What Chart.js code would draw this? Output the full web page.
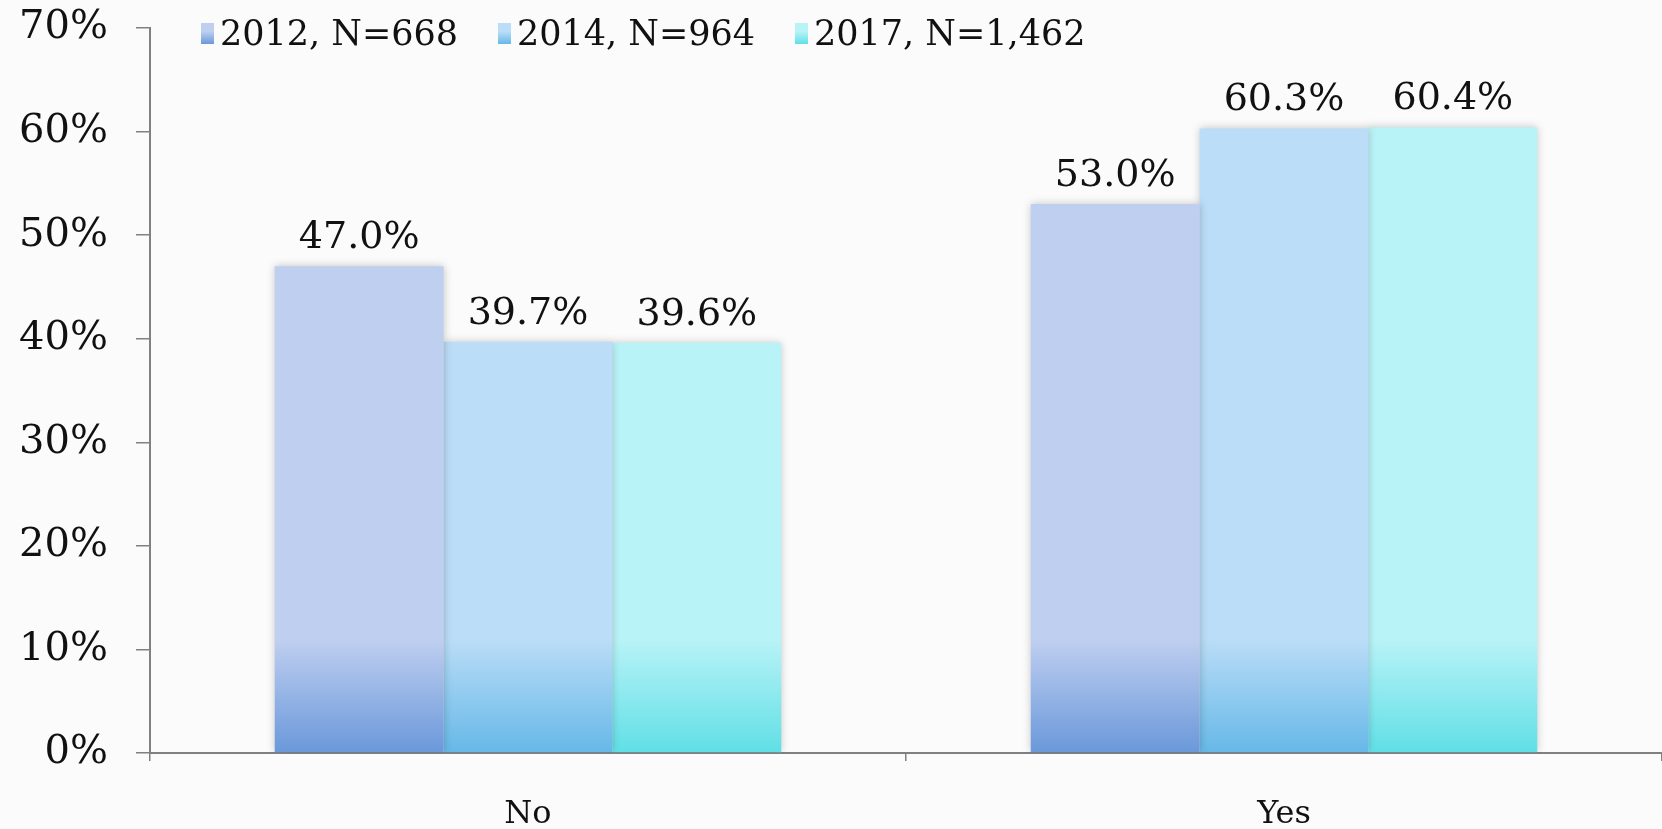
<!DOCTYPE html>
<html>
<head>
<meta charset="utf-8">
<script src="https://cdn.jsdelivr.net/npm/chart.js@4.4.1/dist/chart.umd.min.js"></script>
<style>
    html, body { margin: 0; padding: 0; background: #fbfbfb; }
    #wrap { position: relative; width: 1662px; height: 829px; }
    #legend { position: absolute; top: 13px; left: 0; font-family: "DejaVu Serif", serif; font-size: 35px; color: #111; }
    .item { position: absolute; display: flex; align-items: center; white-space: nowrap; }
    .swatch { width: 13px; height: 21px; margin-right: 6px; }
</style>
</head>
<body>
<div id="wrap">
    <canvas id="chart" width="1662" height="829"></canvas>
    <div id="legend"></div>
</div>
<script>
const categories = ['No', 'Yes'];
const seriesNames = ['2012, N=668', '2014, N=964', '2017, N=1,462'];
const values2012 = [47.0, 53.0];
const values2014 = [39.7, 60.3];
const values2017 = [39.6, 60.4];
const yTicks = [0, 10, 20, 30, 40, 50, 60, 70];

const topColors = ['#bfcff0', '#bbddf7', '#b8f3f7'];
const bottomColors = ['#6a98da', '#66b8e8', '#60dfe6'];

function barFill(i) {
    return (ctx) => {
        const chart = ctx.chart;
        if (!chart.chartArea) return topColors[i];
        const y = chart.scales.y;
        const g = chart.ctx.createLinearGradient(0, y.getPixelForValue(0), 0, y.getPixelForValue(11));
        g.addColorStop(0, bottomColors[i]);
        g.addColorStop(1, topColors[i]);
        return g;
    };
}

const shadowAndLabels = {
    id: 'shadowAndLabels',
    beforeDatasetsDraw(chart) {
        chart.ctx.save();
        chart.ctx.shadowColor = 'rgba(0,0,0,0.22)';
        chart.ctx.shadowBlur = 8;
    },
    afterDatasetsDraw(chart) {
        const c = chart.ctx;
        c.restore();
        c.save();
        c.font = '38px "DejaVu Serif", serif';
        c.fillStyle = '#111';
        c.textAlign = 'center';
        c.textBaseline = 'alphabetic';
        chart.data.datasets.forEach((ds, di) => {
            chart.getDatasetMeta(di).data.forEach((bar, i) => {
                c.fillText(ds.data[i].toFixed(1) + '%', bar.x, bar.y - 18);
            });
        });
        c.restore();
    }
};

const legendEl = document.getElementById('legend');
const legendLeft = [201, 498, 795];
seriesNames.forEach((name, i) => {
    legendEl.insertAdjacentHTML('beforeend', `
        <div class="item" style="left:${legendLeft[i]}px">
            <div class="swatch" style="background:linear-gradient(to top, ${bottomColors[i]}, ${topColors[i]} 60%)"></div>
            <span>${name}</span>
        </div>`);
});

const axisColor = '#808080';

new Chart(document.getElementById('chart'), {
    type: 'bar',
    data: {
        labels: categories,
        datasets: [values2012, values2014, values2017].map((d, i) => ({
            label: seriesNames[i],
            data: d,
            backgroundColor: barFill(i),
            borderWidth: 0,
            categoryPercentage: 0.67,
            barPercentage: 1.0
        }))
    },
    options: {
        responsive: false,
        animation: false,
        layout: { padding: { top: 28, right: 0, left: 0, bottom: 0 } },
        plugins: { legend: { display: false }, tooltip: { enabled: false } },
        scales: {
            x: {
                afterFit: (s) => { s.height = 76; s.paddingLeft = 0; s.paddingRight = 0; },
                border: { color: axisColor, width: 2 },
                grid: { display: true, drawOnChartArea: false, offset: true, color: axisColor, lineWidth: 1.5, tickLength: 8 },
                ticks: { color: '#111', font: { family: '"DejaVu Serif", serif', size: 32 }, padding: 34 }
            },
            y: {
                min: 0,
                max: 70,
                afterFit: (s) => { s.width = 150; s.paddingTop = 0; s.paddingBottom = 0; },
                afterBuildTicks: (s) => { s.ticks = yTicks.map(v => ({ value: v })); },
                border: { color: axisColor, width: 2 },
                grid: { display: true, drawOnChartArea: false, color: axisColor, lineWidth: 1.5, tickLength: 14 },
                ticks: {
                    color: '#111',
                    font: { family: '"DejaVu Serif", serif', size: 40 },
                    padding: 28,
                    callback: (v) => v + '%'
                }
            }
        }
    },
    plugins: [shadowAndLabels]
});
</script>
</body>
</html>
